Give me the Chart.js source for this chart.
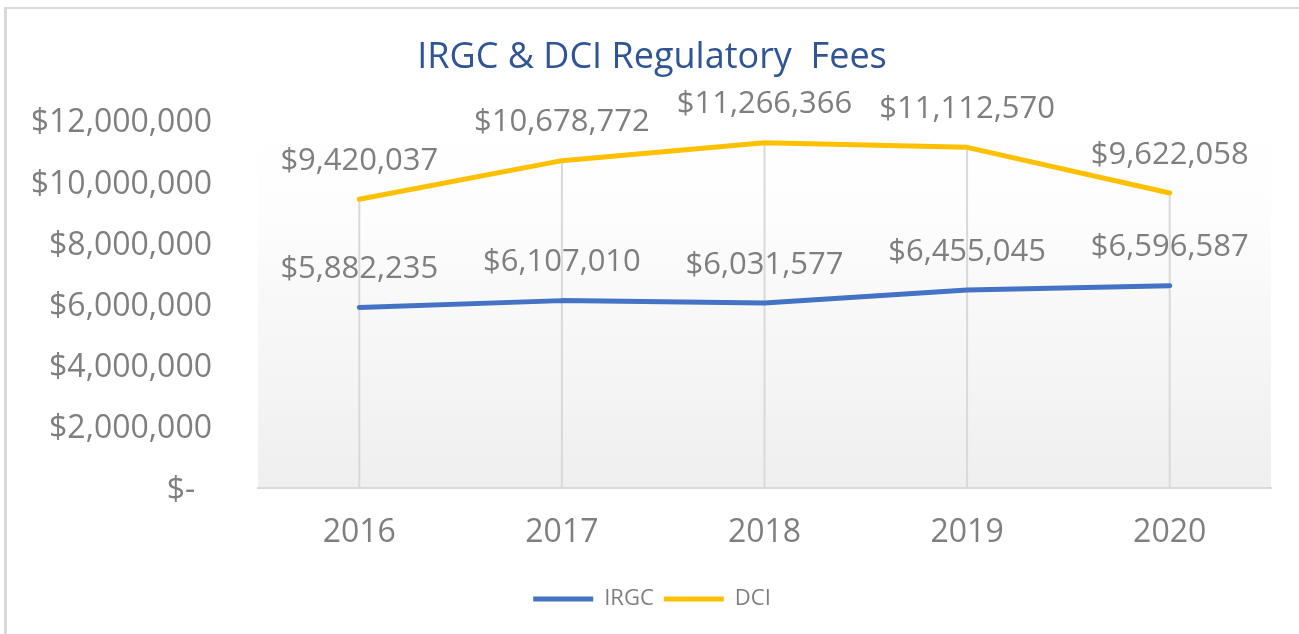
<!DOCTYPE html>
<html>
<head>
<meta charset="utf-8">
<script src="https://cdn.jsdelivr.net/npm/chart.js@4.4.1/dist/chart.umd.min.js"></script>
<style>
  html, body { margin: 0; padding: 0; background: #ffffff; overflow: hidden; }
  #frame { position: absolute; left: 4px; top: 7px; width: 1400px; height: 700px;
           border-top: 2px solid #d9d9d9; border-left: 3px solid #d9d9d9; }
  #c { position: absolute; left: 0; top: 0; }
</style>
</head>
<body>
<div id="frame"></div>
<canvas id="c" width="1299" height="634"></canvas>
<script>
const categories = ['2016', '2017', '2018', '2019', '2020'];
const seriesNames = ['IRGC', 'DCI'];
const irgcValues = [5882235, 6107010, 6031577, 6455045, 6596587];
const dciValues = [9420037, 10678772, 11266366, 11112570, 9622058];
const yTickMin = 0;
const yTickMax = 12000000;
const yTickStep = 2000000;
const titleText = 'IRGC & DCI Regulatory  Fees';

const FONT = '"Open Sans", "Noto Sans", sans-serif';
const GRAY = '#7f7f7f';

function money(v) {
  if (v === 0) return '$-  ';
  return '$' + Math.round(v).toLocaleString('en-US');
}

const plotBg = {
  id: 'plotBg',
  beforeDraw(chart) {
    const a = chart.chartArea, ctx = chart.ctx;
    const g = ctx.createLinearGradient(0, a.top, 0, a.bottom);
    g.addColorStop(0, '#ffffff');
    g.addColorStop(0.25, '#fdfdfd');
    g.addColorStop(1, '#efefef');
    ctx.save();
    ctx.fillStyle = g;
    ctx.fillRect(a.left, a.top, a.right - a.left, a.bottom - a.top);
    ctx.restore();
  }
};

const dropLines = {
  id: 'dropLines',
  beforeDatasetsDraw(chart) {
    const ctx = chart.ctx, a = chart.chartArea;
    const metas = chart.data.datasets.map((d, i) => chart.getDatasetMeta(i));
    ctx.save();
    ctx.strokeStyle = '#d9d9d9';
    ctx.lineWidth = 2;
    for (let i = 0; i < categories.length; i++) {
      let top = Infinity, x = null;
      metas.forEach(m => { const p = m.data[i]; if (p) { x = p.x; top = Math.min(top, p.y); } });
      if (x === null) continue;
      ctx.beginPath();
      ctx.moveTo(x, top);
      ctx.lineTo(x, a.bottom);
      ctx.stroke();
    }
    ctx.restore();
  }
};

const dataLabels = {
  id: 'dataLabels',
  afterDatasetsDraw(chart) {
    const ctx = chart.ctx;
    ctx.save();
    ctx.font = '31px ' + FONT;
    ctx.fillStyle = GRAY;
    ctx.textAlign = 'center';
    ctx.textBaseline = 'middle';
    chart.data.datasets.forEach((ds, i) => {
      const meta = chart.getDatasetMeta(i);
      meta.data.forEach((p, j) => {
        ctx.fillText(money(ds.data[j]), p.x, p.y - 38);
      });
    });
    ctx.restore();
  }
};

new Chart(document.getElementById('c'), {
  type: 'line',
  data: {
    labels: categories,
    datasets: [
      { label: seriesNames[0], data: irgcValues, borderColor: '#4472c4', backgroundColor: '#4472c4',
        borderWidth: 5, borderCapStyle: 'round', borderJoinStyle: 'round', pointRadius: 0, tension: 0 },
      { label: seriesNames[1], data: dciValues, borderColor: '#ffc000', backgroundColor: '#ffc000',
        borderWidth: 5, borderCapStyle: 'round', borderJoinStyle: 'round', pointRadius: 0, tension: 0 }
    ]
  },
  options: {
    responsive: false,
    animation: false,
    devicePixelRatio: 1,
    layout: { padding: { left: 33, right: 28, top: 0, bottom: 14 } },
    plugins: {
      tooltip: { enabled: false },
      title: {
        display: true, text: titleText, color: '#2f5597',
        font: { family: FONT, size: 36, weight: 'normal' },
        padding: { top: 36, bottom: 41 }
      },
      legend: {
        position: 'bottom',
        labels: {
          color: GRAY, font: { family: FONT, size: 22 },
          usePointStyle: true, pointStyle: 'line', pointStyleWidth: 60, boxHeight: 22,
          padding: 10
        }
      }
    },
    scales: {
      x: {
        offset: true,
        grid: { display: false, drawTicks: false },
        border: { display: true, color: '#d9d9d9', width: 2 },
        ticks: { color: GRAY, font: { family: FONT, size: 32 }, padding: 26, maxRotation: 0 }
      },
      y: {
        min: yTickMin, max: yTickMax,
        grid: { display: false, drawTicks: false },
        border: { display: false },
        afterFit(scale) { scale.width = 225; },
        ticks: { stepSize: yTickStep, color: GRAY, font: { family: FONT, size: 32 }, padding: 46,
                 labelOffset: 3, callback: v => money(v) }
      }
    }
  },
  plugins: [plotBg, dropLines, dataLabels]
});
</script>
</body>
</html>
